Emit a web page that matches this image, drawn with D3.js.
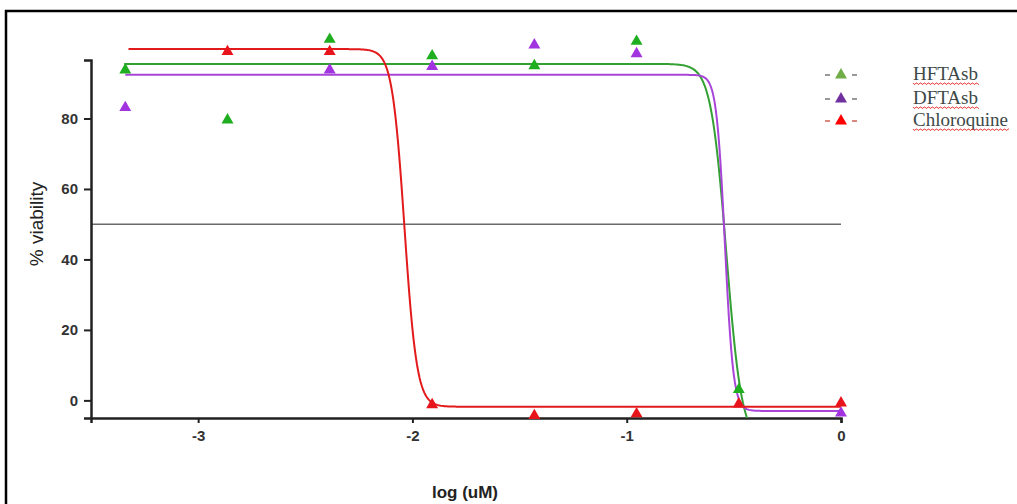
<!DOCTYPE html>
<html>
<head>
<meta charset="utf-8">
<script src="https://cdn.jsdelivr.net/npm/d3@7"></script>
<style>
  body { margin: 0; background: #fff; }
  svg { display: block; }
</style>
</head>
<body>
<div id="chart"></div>
<script>
// log concentrations (3-fold dilutions)
const logConc = [-3.340, -2.863, -2.386, -1.908, -1.431, -0.954, -0.477, 0];

// measured % viability (null = not visible)
const hftasb = [94.2, 80.0, 102.9, 98.2, 95.4, 102.3, 3.5, null];
const dftasb = [83.5, null, 94.2, 95.2, 101.3, 98.8, null, -3.2];
const chloroquine = [null, 99.4, 99.4, -0.8, -3.9, -3.4, -0.6, -0.3];

// fitted dose-response parameters: [top, bottom, logIC50, hill, start, end]
const fitHFTAsb = [95.5, -12, -0.535, 12, -3.345, 0];
const fitDFTAsb = [92.4, -3.0, -0.542, 22, -3.34, 0];
const fitChloroquine = [99.7, -1.8, -2.037, 15, -3.325, 0];

const legendNames = ["HFTAsb", "DFTAsb", "Chloroquine"];
const xTicks = [-3, -2, -1, 0];
const yTicks = [0, 20, 40, 60, 80];

const W = 1017, H = 504;

const svg = d3.select("#chart").append("svg")
    .attr("width", W)
    .attr("height", H);

// outer frame (runs off the right and bottom edges)
svg.append("rect")
    .attr("x", 6).attr("y", 11)
    .attr("width", 1030).attr("height", 520)
    .attr("fill", "none")
    .attr("stroke", "#000")
    .attr("stroke-width", 2.5);

const x = d3.scaleLinear().domain([-3.5, 0]).range([91, 841]);
const y = d3.scaleLinear().domain([-5, 96.6]).range([418, 60]);

svg.append("clipPath").attr("id", "plotClip")
    .append("rect")
    .attr("x", 80).attr("y", 0)
    .attr("width", 780).attr("height", 418);

// 50% reference line
svg.append("line")
    .attr("x1", x(-3.5)).attr("x2", x(0))
    .attr("y1", y(50)).attr("y2", y(50))
    .attr("stroke", "#6b6b6b")
    .attr("stroke-width", 1.5);

// axes
const xAxis = svg.append("g")
    .attr("transform", `translate(0,${y(-5)})`)
    .call(d3.axisBottom(x).tickValues(xTicks).tickSizeOuter(0)
        .tickSize(5).tickPadding(7).tickFormat(d => String(d)));

const yAxis = svg.append("g")
    .attr("transform", `translate(${x(-3.5)},0)`)
    .call(d3.axisLeft(y).tickValues(yTicks).tickSizeOuter(0)
        .tickSize(7).tickPadding(6));

[xAxis, yAxis].forEach(ax => {
    ax.select(".domain").attr("stroke", "#222").attr("stroke-width", 2.5);
    ax.selectAll(".tick line").attr("stroke", "#222").attr("stroke-width", 2);
    ax.selectAll(".tick text")
        .attr("fill", "#333")
        .style("font-family", "'Liberation Sans', Arial, sans-serif")
        .style("font-size", "15px")
        .style("font-weight", "bold");
});

// axis titles
svg.append("text")
    .attr("x", 465).attr("y", 498)
    .attr("text-anchor", "middle")
    .style("font-family", "'Liberation Sans', Arial, sans-serif")
    .style("font-size", "17px")
    .style("font-weight", "bold")
    .attr("fill", "#222")
    .text("log (uM)");

svg.append("text")
    .attr("transform", "translate(43,224) rotate(-90)")
    .attr("text-anchor", "middle")
    .style("font-family", "'Liberation Sans', Arial, sans-serif")
    .style("font-size", "19px")
    .attr("fill", "#222")
    .text("% viability");

// fitted curves
function hill(p, xv) {
    return p[1] + (p[0] - p[1]) / (1 + Math.pow(10, (xv - p[2]) * p[3]));
}

const line = d3.line().x(d => x(d[0])).y(d => y(d[1]));

const curves = [
    { fit: fitHFTAsb, color: "#33a033" },
    { fit: fitDFTAsb, color: "#a845d8" },
    { fit: fitChloroquine, color: "#e31a1c" }
];

const curveLayer = svg.append("g").attr("clip-path", "url(#plotClip)");

curves.forEach(c => {
    const pts = d3.range(0, 601).map(i => {
        const xv = c.fit[4] + (c.fit[5] - c.fit[4]) * i / 600;
        return [xv, hill(c.fit, xv)];
    });
    curveLayer.append("path")
        .datum(pts)
        .attr("fill", "none")
        .attr("stroke", c.color)
        .attr("stroke-width", 2)
        .attr("d", line);
});

// data markers
const series = [
    { values: dftasb, color: "#a233e0" },
    { values: hftasb, color: "#1fae1f" },
    { values: chloroquine, color: "#e8141c" }
];

const tri = d3.symbol().type(d3.symbolTriangle).size(62);

series.forEach(s => {
    svg.append("g").selectAll("path")
        .data(s.values.map((v, i) => [logConc[i], v]).filter(d => d[1] !== null))
        .enter()
        .append("path")
        .attr("d", tri)
        .attr("transform", d => `translate(${x(d[0])},${y(d[1]) + 1.5})`)
        .attr("fill", s.color);
});

// legend
const legendColors = ["#70ad47", "#7030a0", "#ff0000"];
const legendY = [74, 98, 120];

const legend = svg.append("g");
legendNames.forEach((name, i) => {
    const ly = legendY[i];
    legend.append("path")
        .attr("d", tri)
        .attr("transform", `translate(841,${ly + 1})`)
        .attr("fill", legendColors[i]);
    [[825, 830], [852, 857]].forEach(seg => {
        legend.append("line")
            .attr("x1", seg[0]).attr("x2", seg[1])
            .attr("y1", ly + 1).attr("y2", ly + 1)
            .attr("stroke", legendColors[i] === "#ff0000" ? "#c0392b" : "#555")
            .attr("stroke-width", 1.2);
    });
    const t = legend.append("text")
        .attr("x", 913).attr("y", ly + 6)
        .style("font-family", "'Liberation Serif', 'Times New Roman', serif")
        .style("font-size", "19px")
        .attr("fill", "#3d4848")
        .text(name);
    // spell-check squiggle under the word
    const w = t.node().getComputedTextLength();
    let d = `M913,${ly + 9}`;
    for (let k = 0; k < w / 2; k++) {
        d += ` l1,${k % 2 === 0 ? 1.3 : -1.3} l1,0`;
    }
    legend.append("path")
        .attr("d", d)
        .attr("fill", "none")
        .attr("stroke", "#e03030")
        .attr("stroke-width", 0.9);
});
</script>
</body>
</html>
